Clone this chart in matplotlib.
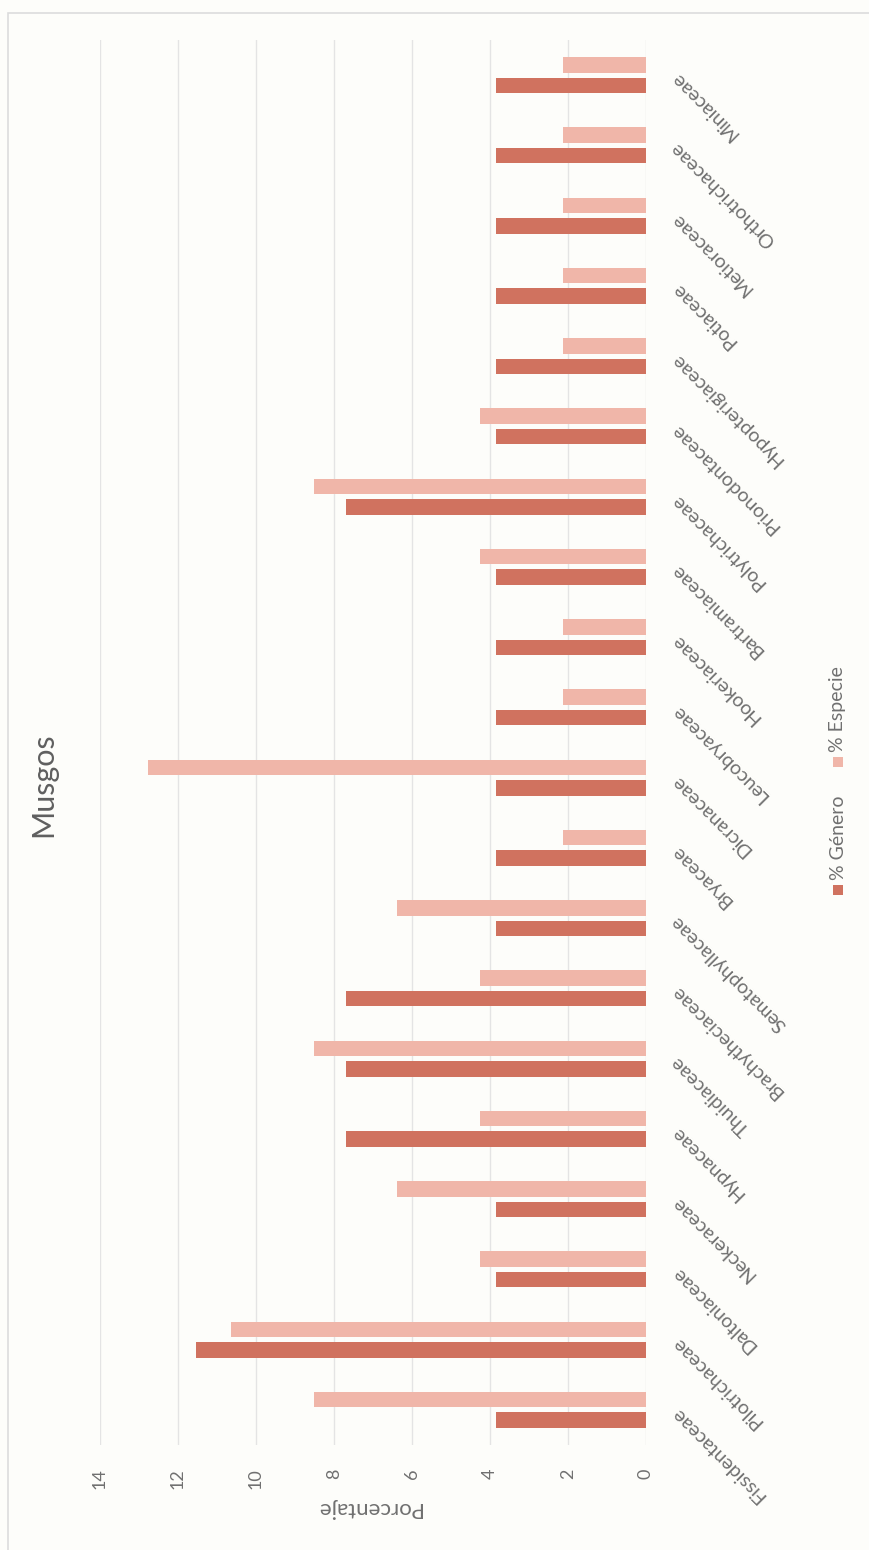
import numpy as np
import matplotlib
matplotlib.use("Agg")
import matplotlib.pyplot as plt
from matplotlib.patches import Rectangle

# datos (de abajo hacia arriba en la figura girada)
familias = ["Fissidentaceae", "Pilotrichaceae", "Daltoniaceae", "Neckeraceae",
            "Hypnaceae", "Thuidiaceae", "Brachytheciaceae", "Sematophyllaceae",
            "Bryaceae", "Dicranaceae", "Leucobryaceae", "Hookeriaceae",
            "Bartramiaceae", "Polytrichaceae", "Prionodontaceae",
            "Hypopterigiaceae", "Potiaceae", "Metioraceae", "Orthotrichaceae",
            "Miniaceae"]
pct_genero = [3.85, 11.54, 3.85, 3.85, 7.69, 7.69, 7.69, 3.85, 3.85, 3.85,
              3.85, 3.85, 3.85, 7.69, 3.85, 3.85, 3.85, 3.85, 3.85, 3.85]
pct_especie = [8.51, 10.64, 4.26, 6.38, 4.26, 8.51, 4.26, 6.38, 2.13, 12.77,
               2.13, 2.13, 4.26, 8.51, 4.26, 2.13, 2.13, 2.13, 2.13, 2.13]
ticks_y = [0, 2, 4, 6, 8, 10, 12, 14]

W, H = 869, 1550
c_gen = "#d0725f"
c_esp = "#f0b6a9"
c_txt = "#707070"
fuente = ["Lato", "DejaVu Sans"]
plt.rcParams["font.family"] = fuente

fig = plt.figure(figsize=(W / 100, H / 100), dpi=100)
fig.patch.set_facecolor("#fdfdfa")

# marco del grafico
fig.patches.append(Rectangle((8 / W, -0.1), 1.2, 1 - 13 / H + 0.1,
                             transform=fig.transFigure, fill=False,
                             edgecolor="#dcdcdc", linewidth=1.2))

x0, x1 = 99.8, 645.8
ytop, ybot = 40, 1445
ax = fig.add_axes([x0 / W, 1 - ybot / H, (x1 - x0) / W, (ybot - ytop) / H])
ax.set_facecolor("none")

pos = np.arange(len(familias))
ax.barh(pos - 0.145, pct_genero, height=0.22, color=c_gen, label="% Género")
ax.barh(pos + 0.145, pct_especie, height=0.22, color=c_esp, label="% Especie")

ax.set_xlim(14, 0)
ax.set_ylim(-0.5, len(familias) - 0.5)
ax.set_xticks(ticks_y)
ax.set_xticklabels([str(t) for t in ticks_y], rotation=90, fontsize=13,
                   color=c_txt)
ax.tick_params(axis="x", length=0, pad=17)
ax.grid(axis="x", color="#e4e4e4", linewidth=1)
ax.set_axisbelow(True)
for s in ax.spines.values():
    s.set_visible(False)

ax.yaxis.tick_right()
ax.set_yticks(pos)
ax.set_yticklabels(familias, fontsize=14, color=c_txt)
ax.tick_params(axis="y", length=0, pad=20)
for lab in ax.get_yticklabels():
    lab.set_rotation(135)
    lab.set_rotation_mode("anchor")
    lab.set_ha("right")
    lab.set_va("center")

# titulo y etiqueta del eje
fig.text(43 / W, 1 - 785 / H, "Musgos", rotation=90, ha="center",
         va="center", fontsize=22, color="#5f5f5f")
fig.text(368 / W, 1 - 1508 / H, "Porcentaje", rotation=180, ha="center",
         va="center", fontsize=16, color=c_txt)

# leyenda
sq = 10
for yc, col, txt in [(890, c_gen, "% Género"), (762, c_esp, "% Especie")]:
    fig.patches.append(Rectangle(((838 - sq / 2) / W, 1 - (yc + sq / 2) / H),
                                 sq / W, sq / H, transform=fig.transFigure,
                                 facecolor=col, edgecolor="none"))
    fig.text(838 / W, 1 - (yc - 10) / H, txt, rotation=90, ha="center",
             va="bottom", fontsize=14, color=c_txt)

fig.savefig("out.png", dpi=100, facecolor=fig.get_facecolor())
